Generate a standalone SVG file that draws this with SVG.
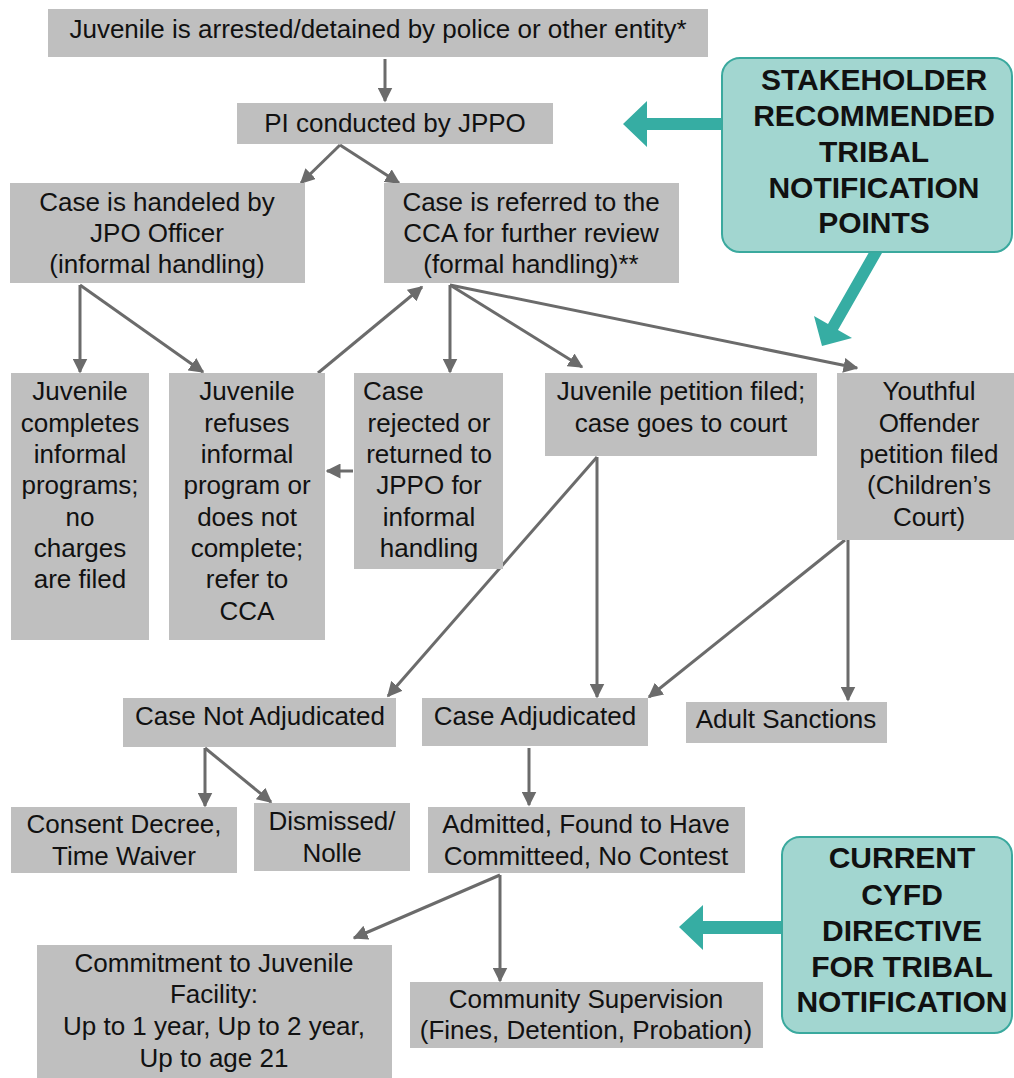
<svg xmlns="http://www.w3.org/2000/svg" width="1014" height="1078" viewBox="0 0 1014 1078">
<defs>
<style>
.b{fill:#bfbfbf}
.t{font-family:"Liberation Sans",Arial,sans-serif;font-size:26px;fill:#111;text-anchor:middle}
.c{fill:#a2d6d0;stroke:#3aa99e;stroke-width:2}
.ct{font-family:"Liberation Sans",Arial,sans-serif;font-size:30px;font-weight:bold;fill:#111;text-anchor:middle}
.e{stroke:#6b6b6b;stroke-width:3;fill:none;marker-end:url(#ah)}
.tl{fill:#36ada3}
</style>
<marker id="ah" viewBox="0 0 10 10" refX="9" refY="5" markerWidth="15" markerHeight="15" markerUnits="userSpaceOnUse" orient="auto">
<path d="M0,0 L10,5 L0,10 z" fill="#6b6b6b"/>
</marker>
</defs>
<rect width="1014" height="1078" fill="#fff"/>
<g id="connectors">
<line class="e" x1="385" y1="59" x2="385" y2="101"/>
<line class="e" x1="340" y1="145" x2="301" y2="183"/>
<line class="e" x1="340" y1="145" x2="399" y2="183"/>
<line class="e" x1="80" y1="285" x2="80" y2="372"/>
<line class="e" x1="80" y1="285" x2="203" y2="372"/>
<line class="e" x1="318" y1="373" x2="422" y2="287"/>
<line class="e" x1="450" y1="285" x2="450" y2="372"/>
<line class="e" x1="450" y1="285" x2="582" y2="367"/>
<line class="e" x1="450" y1="285" x2="857" y2="368"/>
<line class="e" x1="353" y1="471" x2="327" y2="471"/>
<line class="e" x1="597" y1="457" x2="388" y2="696"/>
<line class="e" x1="597" y1="457" x2="597" y2="697"/>
<line class="e" x1="845" y1="540" x2="649" y2="697"/>
<line class="e" x1="848" y1="540" x2="848" y2="700"/>
<line class="e" x1="205" y1="748" x2="205" y2="806"/>
<line class="e" x1="205" y1="748" x2="271" y2="802"/>
<line class="e" x1="529" y1="748" x2="529" y2="805"/>
<line class="e" x1="500" y1="875" x2="354" y2="938"/>
<line class="e" x1="500" y1="875" x2="500" y2="981"/>
</g>
<g id="teal-arrows">
<polygon class="tl" points="623,124 647,101 647,118 725,118 725,130 647,130 647,147"/>
<polygon class="tl" points="882,253 838,330 852,338 822,346 814,316 828,324 872,247"/>
<polygon class="tl" points="679,927 703,905 703,921 785,921 785,934 703,934 703,950"/>
</g>
<g id="n1"><rect class="b" x="48" y="9" width="660" height="48"/><text class="t" x="378" y="38">Juvenile is arrested/detained by police or other entity*</text></g>
<g id="n2"><rect class="b" x="237" y="103" width="316" height="41"/><text class="t" x="395" y="132">PI conducted by JPPO</text></g>
<g id="n3"><rect class="b" x="10" y="183" width="295" height="100"/><text class="t"><tspan x="157" y="211">Case is handeled by</tspan><tspan x="157" y="242">JPO Officer</tspan><tspan x="157" y="273">(informal handling)</tspan></text></g>
<g id="n4"><rect class="b" x="384" y="183" width="295" height="100"/><text class="t"><tspan x="531" y="211">Case is referred to the</tspan><tspan x="531" y="242">CCA for further review</tspan><tspan x="531" y="273">(formal handling)**</tspan></text></g>
<g id="n5"><rect class="b" x="11" y="373" width="138" height="267"/><text class="t"><tspan x="80" y="400">Juvenile</tspan><tspan x="80" y="432">completes</tspan><tspan x="80" y="463">informal</tspan><tspan x="80" y="494">programs;</tspan><tspan x="80" y="526">no</tspan><tspan x="80" y="557">charges</tspan><tspan x="80" y="588">are filed</tspan></text></g>
<g id="n6"><rect class="b" x="169" y="373" width="156" height="267"/><text class="t"><tspan x="247" y="400">Juvenile</tspan><tspan x="247" y="432">refuses</tspan><tspan x="247" y="463">informal</tspan><tspan x="247" y="494">program or</tspan><tspan x="247" y="526">does not</tspan><tspan x="247" y="557">complete;</tspan><tspan x="247" y="588">refer to</tspan><tspan x="247" y="620">CCA</tspan></text></g>
<g id="n7"><rect class="b" x="354" y="373" width="149" height="196"/><text class="t"><tspan x="363" y="400" text-anchor="start">Case</tspan><tspan x="429" y="432">rejected or</tspan><tspan x="429" y="463">returned to</tspan><tspan x="429" y="494">JPPO for</tspan><tspan x="429" y="526">informal</tspan><tspan x="429" y="557">handling</tspan></text></g>
<g id="n8"><rect class="b" x="545" y="373" width="272" height="83"/><text class="t"><tspan x="681" y="400">Juvenile petition filed;</tspan><tspan x="681" y="432">case goes to court</tspan></text></g>
<g id="n9"><rect class="b" x="837" y="373" width="180" height="167"/><text class="t"><tspan x="929" y="400">Youthful</tspan><tspan x="929" y="432">Offender</tspan><tspan x="929" y="463">petition filed</tspan><tspan x="929" y="494">(Children’s</tspan><tspan x="929" y="526">Court)</tspan></text></g>
<g id="n10"><rect class="b" x="123" y="698" width="273" height="49"/><text class="t" x="260" y="725">Case Not Adjudicated</text></g>
<g id="n11"><rect class="b" x="422" y="698" width="226" height="48"/><text class="t" x="535" y="725">Case Adjudicated</text></g>
<g id="n12"><rect class="b" x="686" y="702" width="201" height="41"/><text class="t" x="786" y="728">Adult Sanctions</text></g>
<g id="n13"><rect class="b" x="11" y="807" width="226" height="66"/><text class="t"><tspan x="124" y="833">Consent Decree,</tspan><tspan x="124" y="865">Time Waiver</tspan></text></g>
<g id="n14"><rect class="b" x="254" y="803" width="156" height="68"/><text class="t"><tspan x="332" y="830">Dismissed/</tspan><tspan x="332" y="862">Nolle</tspan></text></g>
<g id="n15"><rect class="b" x="428" y="807" width="317" height="66"/><text class="t"><tspan x="586" y="833">Admitted, Found to Have</tspan><tspan x="586" y="865">Committeed, No Contest</tspan></text></g>
<g id="n16"><rect class="b" x="37" y="945" width="355" height="140"/><text class="t"><tspan x="214" y="972">Commitment to Juvenile</tspan><tspan x="214" y="1003">Facility:</tspan><tspan x="214" y="1035">Up to 1 year, Up to 2 year,</tspan><tspan x="214" y="1067">Up to age 21</tspan></text></g>
<g id="n17"><rect class="b" x="410" y="982" width="353" height="66"/><text class="t"><tspan x="586" y="1008">Community Supervision</tspan><tspan x="586" y="1039">(Fines, Detention, Probation)</tspan></text></g>
<g id="callout1"><rect class="c" x="722" y="58" width="290" height="194" rx="18"/><text class="ct"><tspan x="874" y="90">STAKEHOLDER</tspan><tspan x="874" y="126">RECOMMENDED</tspan><tspan x="874" y="162">TRIBAL</tspan><tspan x="874" y="198">NOTIFICATION</tspan><tspan x="874" y="233">POINTS</tspan></text></g>
<g id="callout2"><rect class="c" x="782" y="837" width="230" height="196" rx="18"/><text class="ct"><tspan x="902" y="868">CURRENT</tspan><tspan x="902" y="905">CYFD</tspan><tspan x="902" y="941">DIRECTIVE</tspan><tspan x="902" y="977">FOR TRIBAL</tspan><tspan x="902" y="1012">NOTIFICATION</tspan></text></g>
</svg>
